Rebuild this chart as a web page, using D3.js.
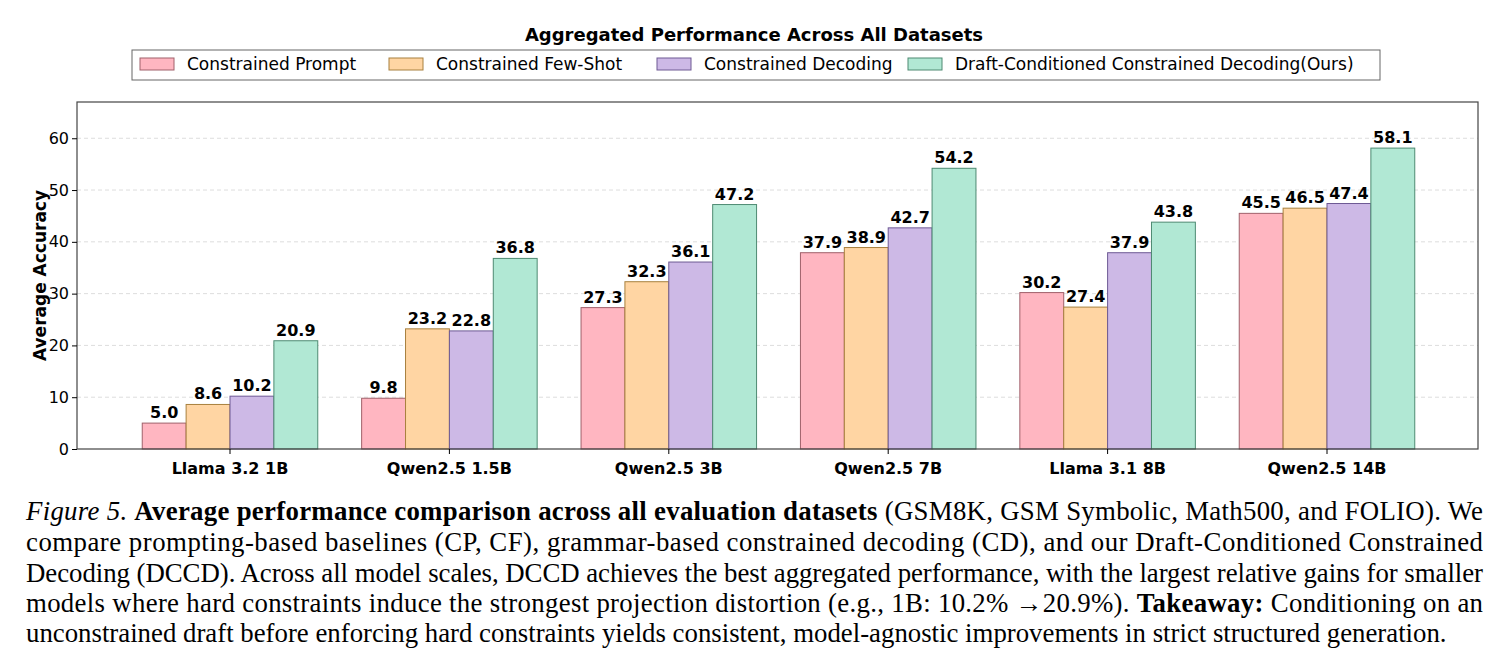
<!DOCTYPE html>
<html><head><meta charset="utf-8">
<script src="https://cdn.jsdelivr.net/npm/d3@7"></script>
<style>body{margin:0;background:#fff}</style>
</head><body>
<svg id="chart" width="1509" height="671"></svg>
<script>
// data
var models = ["Llama 3.2 1B", "Qwen2.5 1.5B", "Qwen2.5 3B", "Qwen2.5 7B", "Llama 3.1 8B", "Qwen2.5 14B"];
var seriesNames = ["Constrained Prompt", "Constrained Few-Shot", "Constrained Decoding", "Draft-Conditioned Constrained Decoding(Ours)"];
var cpVals = [5.0, 9.8, 27.3, 37.9, 30.2, 45.5];
var cfVals = [8.6, 23.2, 32.3, 38.9, 27.4, 46.5];
var cdVals = [10.2, 22.8, 36.1, 42.7, 37.9, 47.4];
var dccdVals = [20.9, 36.8, 47.2, 54.2, 43.8, 58.1];
var yTicks = [0, 10, 20, 30, 40, 50, 60];
var fills = ["#ffb6c1", "#ffd5a3", "#cdb9e6", "#b1e8d4"];
var strokes = ["#a0606a", "#a8803e", "#6e5a94", "#4e8a72"];

var series = [cpVals, cfVals, cdVals, dccdVals];
var svg = d3.select("#chart");
var margin = {left: 77, right: 1478, top: 102, bottom: 449};

var x0 = d3.scaleBand().domain(models).range([120.3, 1436.7]).paddingInner(0.2).paddingOuter(0.1);
var x1 = d3.scaleBand().domain(d3.range(4)).range([0, x0.bandwidth()]);
var y = d3.scaleLinear().domain([0, 67]).range([margin.bottom, margin.top]);

// grid
svg.append("g").selectAll("line").data(yTicks.slice(1)).enter().append("line")
    .attr("x1", margin.left).attr("x2", margin.right)
    .attr("y1", function(d){ return y(d); }).attr("y2", function(d){ return y(d); })
    .attr("stroke", "#ddd").attr("stroke-dasharray", "4,3");

// bars
var groups = svg.append("g").selectAll("g").data(models).enter().append("g")
    .attr("transform", function(d){ return "translate(" + x0(d) + ",0)"; });
groups.each(function(m, i){
    var g = d3.select(this);
    series.forEach(function(s, k){
        g.append("rect").attr("x", x1(k)).attr("width", x1.bandwidth())
            .attr("y", y(s[i])).attr("height", y(0) - y(s[i]))
            .attr("fill", fills[k]).attr("stroke", strokes[k]).attr("stroke-width", 1);
        g.append("text").attr("x", x1(k) + x1.bandwidth() / 2).attr("y", y(s[i]) - 5)
            .attr("text-anchor", "middle").attr("font-family", "DejaVu Sans").attr("font-weight", "bold")
            .attr("font-size", 16).text(s[i].toFixed(1));
    });
});

// frame
svg.append("rect").attr("x", margin.left).attr("y", margin.top)
    .attr("width", margin.right - margin.left).attr("height", margin.bottom - margin.top)
    .attr("fill", "none").attr("stroke", "#444").attr("stroke-width", 1.2);

// axes
var yAxis = svg.append("g").attr("transform", "translate(" + margin.left + ",0)")
    .call(d3.axisLeft(y).tickValues(yTicks).tickSize(5));
yAxis.select(".domain").remove();
yAxis.selectAll("text").attr("font-family", "DejaVu Sans").attr("font-size", 16).attr("fill", "#000");

var xAxis = svg.append("g").attr("transform", "translate(0," + margin.bottom + ")")
    .call(d3.axisBottom(x0).tickSize(5));
xAxis.select(".domain").remove();
xAxis.selectAll("text").attr("font-family", "DejaVu Sans").attr("font-weight", "bold")
    .attr("font-size", 16).attr("fill", "#000").attr("dy", "1.05em");

svg.append("text").attr("transform", "translate(46," + ((margin.top + margin.bottom) / 2) + ") rotate(-90)")
    .attr("text-anchor", "middle").attr("font-family", "DejaVu Sans").attr("font-weight", "bold")
    .attr("font-size", 17).text("Average Accuracy");

svg.append("text").attr("x", 754).attr("y", 41).attr("text-anchor", "middle")
    .attr("font-family", "DejaVu Sans").attr("font-weight", "bold").attr("font-size", 18)
    .text("Aggregated Performance Across All Datasets");

// legend
svg.append("rect").attr("x", 132).attr("y", 50).attr("width", 1248).attr("height", 30)
    .attr("fill", "#fff").attr("stroke", "#666");
var legX = [140, 389, 657, 908];
seriesNames.forEach(function(n, k){
    svg.append("rect").attr("x", legX[k]).attr("y", 58).attr("width", 34).attr("height", 12)
        .attr("fill", fills[k]).attr("stroke", strokes[k]);
    svg.append("text").attr("x", legX[k] + 47).attr("y", 70).attr("font-family", "DejaVu Sans")
        .attr("font-size", 17).text(n);
});

// caption
var cap = svg.append("g").attr("font-family", "Liberation Serif").attr("font-size", 26.8);
var t1 = cap.append("text").attr("x", 26).attr("y", 520).attr("textLength", 1457).attr("lengthAdjust", "spacing");
t1.append("tspan").attr("font-style", "italic").text("Figure 5. ");
t1.append("tspan").attr("font-weight", "bold").text("Average performance comparison across all evaluation datasets");
t1.append("tspan").text(" (GSM8K, GSM Symbolic, Math500, and FOLIO). We");
cap.append("text").attr("x", 26).attr("y", 551).attr("textLength", 1457).attr("lengthAdjust", "spacing")
    .text("compare prompting-based baselines (CP, CF), grammar-based constrained decoding (CD), and our Draft-Conditioned Constrained");
cap.append("text").attr("x", 26).attr("y", 582).attr("textLength", 1457).attr("lengthAdjust", "spacing")
    .text("Decoding (DCCD). Across all model scales, DCCD achieves the best aggregated performance, with the largest relative gains for smaller");
var t4 = cap.append("text").attr("x", 26).attr("y", 612).attr("textLength", 1457).attr("lengthAdjust", "spacing");
t4.append("tspan").text("models where hard constraints induce the strongest projection distortion (e.g., 1B: 10.2% \u219220.9%). ");
t4.append("tspan").attr("font-weight", "bold").text("Takeaway:");
t4.append("tspan").text(" Conditioning on an");
cap.append("text").attr("x", 26).attr("y", 642)
    .text("unconstrained draft before enforcing hard constraints yields consistent, model-agnostic improvements in strict structured generation.");
</script>
</body></html>
